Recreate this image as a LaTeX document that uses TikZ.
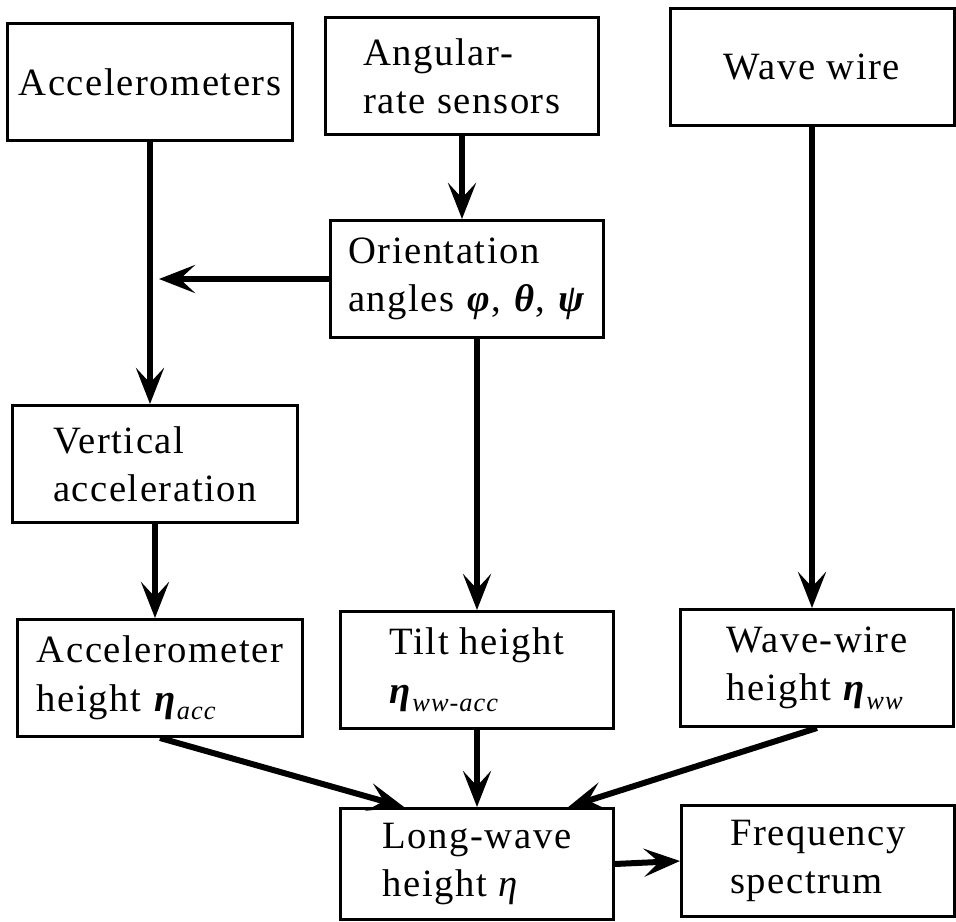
\documentclass[tikz,border=0pt]{standalone}
\usepackage{fontspec}
\setmainfont[LetterSpace=4]{Liberation Serif}
\usetikzlibrary{arrows.meta}

\newcommand{\subtxt}[1]{\raisebox{-0.5ex}{\fontsize{15}{15}\selectfont\itshape #1}}
\newcommand{\greek}[1]{\textbf{\textit{#1}}}

\begin{document}
\begin{tikzpicture}[x=0.2mm, y=-0.2mm, >=Stealth,
    box/.style={rectangle, draw=black, line width=0.6mm, minimum width=54.6mm, minimum height=23.4mm, align=left, inner sep=2mm, font=\fontsize{22}{27.5}\selectfont},
    wide/.style={minimum width=56.8mm},
    low/.style={minimum height=22.2mm},
    arrow/.style={-{Stealth[length=7.2mm, width=5.6mm, inset=3mm]}, line width=1.2mm}]

    \useasboundingbox (0,0) rectangle (956,922);

    \node [box, wide] (acc)    at (150,82)  {Accelerometers};
    \node [box]       (ang)    at (462,76)  {Angular-\\rate sensors};
    \node [box, wide] (wave)   at (812,67)  {Wave wire};
    \node [box]       (orient) at (467,279) {Orientation\\angles \greek{φ}, \greek{θ}, \greek{ψ}};
    \node [box, wide] (vert)   at (155,464) {Vertical\\acceleration};
    \node [box, wide] (acch)   at (160,678) {Accelerometer\\height \greek{η}\subtxt{acc}};
    \node [box]       (tilt)   at (477,670) {Tilt height\\\greek{η}\subtxt{ww-acc}};
    \node [box]       (wwh)    at (817,668) {Wave-wire\\height \greek{η}\subtxt{ww}};
    \node [box, low]  (long)   at (477,864) {Long-wave\\height \textit{η}};
    \node [box, low]  (freq)   at (818,861) {Frequency\\spectrum};

    \coordinate (join) at (orient.west -| acc.south);

    \draw [arrow] (acc.south) -- (acc.south |- vert.north);
    \draw [arrow] (ang.south) -- (ang.south |- orient.north);
    \draw [arrow, shorten >=1.8mm] (orient.west) -- (join);
    \draw [arrow] (tilt.north |- orient.south) -- (tilt.north);
    \draw [arrow] (wave.south) -- (wave.south |- wwh.north);
    \draw [arrow] (vert.south) -- (vert.south |- acch.north);
    \draw [arrow] (acch.south) -- (long.142);
    \draw [arrow] (tilt.south) -- (long.north);
    \draw [arrow] (wwh.south) -- (long.32);
    \draw [arrow] (long.east) -- (freq.west);
\end{tikzpicture}
\end{document}
